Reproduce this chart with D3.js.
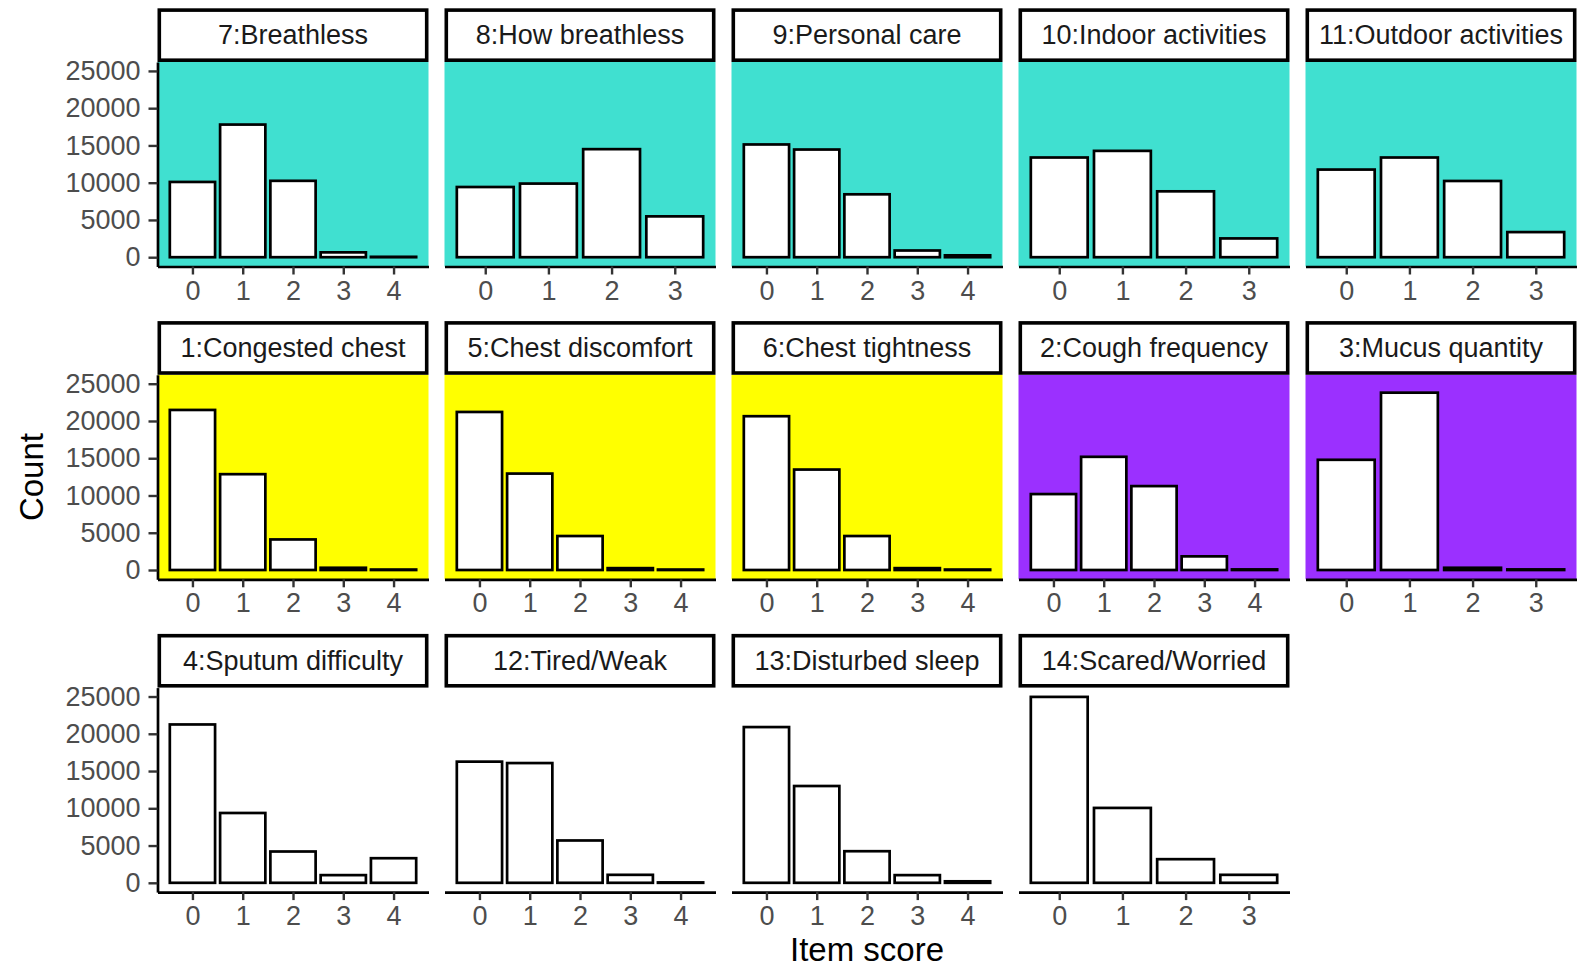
<!DOCTYPE html>
<html>
<head>
<meta charset="utf-8">
<script src="https://cdn.jsdelivr.net/npm/d3@7"></script>
<style>
  html, body { margin: 0; padding: 0; background: #fff; }
  svg { display: block; font-family: "Liberation Sans", Arial, sans-serif; }
</style>
</head>
<body>
<svg id="chart" width="1593" height="970"></svg>
<script>
// Item score distributions, one facet per questionnaire item (row-major order)
const panelTitles = [
  "7:Breathless", "8:How breathless", "9:Personal care", "10:Indoor activities", "11:Outdoor activities",
  "1:Congested chest", "5:Chest discomfort", "6:Chest tightness", "2:Cough frequency", "3:Mucus quantity",
  "4:Sputum difficulty", "12:Tired/Weak", "13:Disturbed sleep", "14:Scared/Worried"
];
// Domain group of each item (sets the panel background)
const panelGroups = [
  "breath", "breath", "breath", "breath", "breath",
  "chest", "chest", "chest", "cough", "cough",
  "other", "other", "other", "other"
];
const groupNames = ["breath", "chest", "cough", "other"];
const groupFills = ["#40E0D0", "#FFFF00", "#9B30FF", "#FFFFFF"];

// Counts per item score (index = score)
const breathless        = [10100, 17800, 10250, 650, 50];
const howBreathless     = [9420, 9880, 14500, 5480];
const personalCare      = [15130, 14450, 8440, 900, 250];
const indoorActivities  = [13380, 14270, 8840, 2520];
const outdoorActivities = [11760, 13380, 10230, 3370];
const congestedChest    = [21480, 12860, 4100, 300, 60];
const chestDiscomfort   = [21210, 12940, 4560, 250, 60];
const chestTightness    = [20640, 13480, 4560, 250, 60];
const coughFrequency    = [10190, 15190, 11260, 1830, 80];
const mucusQuantity     = [14790, 23800, 300, 80];
const sputumDifficulty  = [21250, 9370, 4200, 1030, 3300];
const tiredWeak         = [16260, 16070, 5680, 1070, 50];
const disturbedSleep    = [20900, 12990, 4240, 1030, 200];
const scaredWorried     = [24950, 10050, 3170, 1070];

const panelCounts = [
  breathless, howBreathless, personalCare, indoorActivities, outdoorActivities,
  congestedChest, chestDiscomfort, chestTightness, coughFrequency, mucusQuantity,
  sputumDifficulty, tiredWeak, disturbedSleep, scaredWorried
];
const yTickValues = [0, 5000, 10000, 15000, 20000, 25000];

// Facet grid geometry
const nCols = 5;
const left = 157.5, colStep = 287, panelW = 271;
const rowTops = [62, 374.8, 687.6];
const stripH = 53.7, panelH = 204.5;

const fillOf = d3.scaleOrdinal().domain(groupNames).range(groupFills);

const yMax = d3.max(panelCounts, c => d3.max(c));
const y = d3.scaleLinear()
  .domain([-0.05 * yMax, 1.05 * yMax])
  .range([panelH, 0]);

const svg = d3.select("#chart");

panelCounts.forEach((counts, i) => {
  const col = i % nCols, row = Math.floor(i / nCols);
  const x0 = left + col * colStep;
  const top = rowTops[row];
  const n = counts.length;
  const ext = 0.45 + 0.05 * (n - 0.1);
  const x = d3.scaleLinear().domain([-ext, n - 1 + ext]).range([0, panelW]);

  const g = svg.append("g").attr("transform", `translate(${x0},${top})`);

  // panel background
  g.append("rect")
    .attr("x", 0).attr("y", 0)
    .attr("width", panelW).attr("height", panelH)
    .attr("fill", fillOf(panelGroups[i]));

  // bars
  const data = counts.map((v, k) => ({ score: k, count: v }));
  g.selectAll("rect.bar").data(data).join("rect")
    .attr("class", "bar")
    .attr("x", d => x(d.score - 0.45))
    .attr("width", d => x(d.score + 0.45) - x(d.score - 0.45))
    .attr("y", d => y(d.count))
    .attr("height", d => y(0) - y(d.count))
    .attr("fill", "#fff")
    .attr("stroke", "#000")
    .attr("stroke-width", 2.7);

  // x axis
  const xa = g.append("g")
    .attr("transform", `translate(0,${panelH})`)
    .call(d3.axisBottom(x).tickValues(d3.range(n)).tickFormat(d3.format("d"))
      .tickSize(8).tickSizeOuter(0).tickPadding(6));
  xa.select(".domain").attr("stroke", "#000").attr("stroke-width", 2.7);
  xa.selectAll(".tick line").attr("stroke", "#333").attr("stroke-width", 2.4);
  xa.selectAll(".tick text").attr("fill", "#4D4D4D").style("font-size", "27px");

  // y axis on the first column only
  if (col === 0) {
    const ya = g.append("g")
      .call(d3.axisLeft(y).tickValues(yTickValues).tickFormat(d3.format("d"))
        .tickSize(9).tickSizeOuter(0).tickPadding(8));
    ya.select(".domain").attr("stroke", "#000").attr("stroke-width", 2.7);
    ya.selectAll(".tick line").attr("stroke", "#333").attr("stroke-width", 2.4);
    ya.selectAll(".tick text").attr("fill", "#4D4D4D").style("font-size", "27px");
  }

  // strip
  const sw = 3.6;
  const s = svg.append("g").attr("transform", `translate(${x0},${top - stripH})`);
  s.append("rect")
    .attr("x", sw / 2).attr("y", sw / 2)
    .attr("width", panelW - sw).attr("height", stripH - sw)
    .attr("fill", "#fff").attr("stroke", "#000").attr("stroke-width", sw);
  s.append("text")
    .attr("x", panelW / 2).attr("y", stripH / 2)
    .attr("text-anchor", "middle").attr("dominant-baseline", "central")
    .attr("fill", "#1A1A1A")
    .style("font-size", "27px")
    .text(panelTitles[i]);
});

// axis titles
const plotLeft = left, plotRight = left + (nCols - 1) * colStep + panelW;
svg.append("text")
  .attr("x", (plotLeft + plotRight) / 2).attr("y", 961)
  .attr("text-anchor", "middle")
  .attr("fill", "#000")
  .style("font-size", "33px")
  .text("Item score");

const midY = (rowTops[0] + rowTops[2] + panelH) / 2;
svg.append("text")
  .attr("transform", `translate(43,${midY}) rotate(-90)`)
  .attr("text-anchor", "middle")
  .attr("fill", "#000")
  .style("font-size", "33px")
  .text("Count");
</script>
</body>
</html>
